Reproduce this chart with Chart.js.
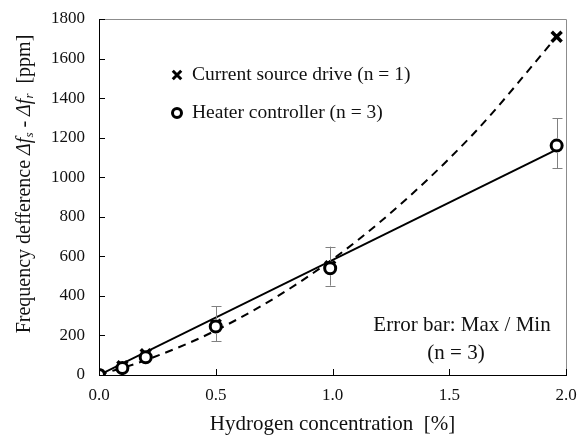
<!DOCTYPE html>
<html>
<head>
<meta charset="utf-8">
<script src="https://cdn.jsdelivr.net/npm/chart.js@4/dist/chart.umd.min.js"></script>
<style>
  html, body { margin: 0; padding: 0; background: #fff; }
  #wrap { width: 579px; height: 441px; }
</style>
</head>
<body>
<div id="wrap"><canvas id="myChart" width="579" height="441"></canvas></div>
<script>
// hydrogen concentration [%]
const concentration = [0, 0.1, 0.2, 0.5, 0.99, 1.96];
// frequency difference [ppm]
const currentDrive = [0, 45, 105, 255, 550, 1710];
const heaterCtrl = [0, 35, 90, 245, 540, 1160];
const heaterMax = [null, null, null, 347, 649, 1297];
const heaterMin = [null, null, null, 171, 452, 1046];

// trend lines
const curveX = [0, 0.2, 0.5, 0.86, 1.2, 1.6, 1.96];
const curveY = [0, 75, 225, 470, 770, 1215, 1710];
const lineX = [0, 1.96];
const lineY = [0, 1140];

const yTicks = [0, 200, 400, 600, 800, 1000, 1200, 1400, 1600, 1800];
const xTicks = [0, 0.5, 1.0, 1.5, 2.0];

const serif = "'Liberation Serif', 'DejaVu Serif', serif";

const toPoints = (xs, ys) => xs.map((x, i) => ({ x: x, y: ys[i] }));

// error bars, inside ticks, frame, y title and legend
const extras = {
  id: "extras",
  afterDatasetsDraw(chart) {
    const ctx = chart.ctx;
    const xs = chart.scales.x;
    const ys = chart.scales.y;

    ctx.save();
    ctx.strokeStyle = "#808080";
    ctx.lineWidth = 1;
    for (let i = 0; i < concentration.length; i++) {
      if (heaterMax[i] == null) continue;
      const px = Math.round(xs.getPixelForValue(concentration[i])) + 0.5;
      const top = ys.getPixelForValue(heaterMax[i]);
      const bot = ys.getPixelForValue(heaterMin[i]);
      const cTop = ys.getPixelForValue(heaterCtrl[i]) - 7;
      const cBot = ys.getPixelForValue(heaterCtrl[i]) + 7;
      ctx.beginPath();
      ctx.moveTo(px, top); ctx.lineTo(px, cTop);
      ctx.moveTo(px, cBot); ctx.lineTo(px, bot);
      ctx.moveTo(px - 5, Math.round(top) + 0.5); ctx.lineTo(px + 5, Math.round(top) + 0.5);
      ctx.moveTo(px - 5, Math.round(bot) + 0.5); ctx.lineTo(px + 5, Math.round(bot) + 0.5);
      ctx.stroke();
    }
    ctx.restore();
  },
  afterDraw(chart) {
    const ctx = chart.ctx;
    const xs = chart.scales.x;
    const ys = chart.scales.y;
    const area = chart.chartArea;

    ctx.save();
    // top and right frame
    ctx.strokeStyle = "#8c8c8c";
    ctx.lineWidth = 1;
    ctx.beginPath();
    ctx.moveTo(area.left, area.top + 0.5);
    ctx.lineTo(area.right + 0.5, area.top + 0.5);
    ctx.lineTo(area.right + 0.5, area.bottom);
    ctx.stroke();

    // ticks pointing inward
    ctx.strokeStyle = "#000";
    ctx.beginPath();
    yTicks.forEach((v) => {
      const py = Math.round(ys.getPixelForValue(v)) + 0.5;
      ctx.moveTo(area.left, py);
      ctx.lineTo(area.left + 6, py);
    });
    xTicks.forEach((v) => {
      const px = Math.round(xs.getPixelForValue(v)) + 0.5;
      ctx.moveTo(px, area.bottom);
      ctx.lineTo(px, area.bottom - 6);
    });
    ctx.stroke();

    // y axis title with subscripts
    const parts = [
      { t: "Frequency defference ", f: "20px " + serif, dy: 0 },
      { t: "\u0394f", f: "italic 20px " + serif, dy: 0 },
      { t: "s", f: "italic 13px " + serif, dy: 5 },
      { t: " - ", f: "20px " + serif, dy: 0 },
      { t: "\u0394f", f: "italic 20px " + serif, dy: 0 },
      { t: "r", f: "italic 13px " + serif, dy: 5 },
      { t: "  [ppm]", f: "20px " + serif, dy: 0 },
    ];
    let total = 0;
    parts.forEach((p) => { ctx.font = p.f; p.w = ctx.measureText(p.t).width; total += p.w; });
    ctx.translate(25, 184);
    ctx.rotate(-Math.PI / 2);
    ctx.fillStyle = "#111";
    ctx.textBaseline = "middle";
    let cx = -total / 2;
    parts.forEach((p) => {
      ctx.font = p.f;
      ctx.fillText(p.t, cx, p.dy);
      cx += p.w;
    });
    ctx.setTransform(1, 0, 0, 1, 0, 0);

    // legend
    const legendRows = [
      { label: "Current source drive (n = 1)", style: "crossRot", y: 75 },
      { label: "Heater controller (n = 3)", style: "circle", y: 113 },
    ];
    legendRows.forEach((r) => {
      ctx.strokeStyle = "#000";
      ctx.fillStyle = "#fff";
      ctx.lineWidth = 3;
      if (r.style === "crossRot") {
        Chart.helpers.drawPoint(ctx, { pointStyle: "crossRot", radius: 6, borderWidth: 3 }, 177, r.y);
      } else {
        ctx.beginPath();
        ctx.arc(177, r.y, 4.5, 0, Math.PI * 2);
        ctx.fill();
        ctx.stroke();
      }
      ctx.fillStyle = "#111";
      ctx.font = "19.5px " + serif;
      ctx.textAlign = "left";
      ctx.textBaseline = "middle";
      ctx.fillText(r.label, 192, r.y);
    });

    // error bar note
    ctx.font = "21px " + serif;
    ctx.textAlign = "center";
    ctx.fillText("Error bar: Max / Min", 462, 325);
    ctx.fillText("(n = 3)", 456, 353);
    ctx.restore();
  },
};

const ctx = document.getElementById("myChart").getContext("2d");
const myChart = new Chart(ctx, {
  type: "scatter",
  data: {
    datasets: [
      {
        label: "Current source drive (n = 1)",
        data: toPoints(concentration, currentDrive),
        pointStyle: "crossRot",
        pointRadius: 7,
        borderColor: "#000",
        borderWidth: 3.5,
        showLine: false,
        order: 1,
      },
      {
        label: "Heater controller (n = 3)",
        data: toPoints(concentration, heaterCtrl),
        pointStyle: "circle",
        pointRadius: 5.5,
        borderColor: "#000",
        backgroundColor: "#fff",
        borderWidth: 3,
        showLine: false,
        order: 0,
      },
      {
        label: "curve",
        data: toPoints(curveX, curveY),
        showLine: true,
        borderColor: "#000",
        borderWidth: 2,
        borderDash: [8, 6],
        pointRadius: 0,
        cubicInterpolationMode: "monotone",
        order: 3,
      },
      {
        label: "line",
        data: toPoints(lineX, lineY),
        showLine: true,
        borderColor: "#000",
        borderWidth: 2,
        pointRadius: 0,
        order: 2,
      },
    ],
  },
  options: {
    responsive: false,
    animation: false,
    layout: { padding: { left: 0, right: 13, top: 19, bottom: 0 } },
    plugins: {
      legend: { display: false },
      tooltip: { enabled: false },
    },
    scales: {
      x: {
        type: "linear",
        min: 0,
        max: 2,
        afterBuildTicks: (axis) => { axis.ticks = xTicks.map((v) => ({ value: v })); },
        afterFit: (axis) => { axis.height = 66; },
        grid: { display: false },
        border: { color: "#000", width: 1 },
        ticks: {
          color: "#111",
          font: { family: serif, size: 17 },
          padding: 2,
          callback: (v) => v.toFixed(1),
        },
        title: {
          display: true,
          text: "Hydrogen concentration  [%]",
          color: "#111",
          font: { family: serif, size: 21 },
          padding: { top: 2 },
        },
      },
      y: {
        type: "linear",
        min: 0,
        max: 1800,
        afterBuildTicks: (axis) => { axis.ticks = yTicks.map((v) => ({ value: v })); },
        afterFit: (axis) => { axis.width = 99; },
        grid: { display: false },
        border: { color: "#000", width: 1 },
        ticks: {
          color: "#111",
          font: { family: serif, size: 17 },
          padding: 6,
          callback: (v) => String(v),
        },
      },
    },
  },
  plugins: [extras],
});
</script>
</body>
</html>
